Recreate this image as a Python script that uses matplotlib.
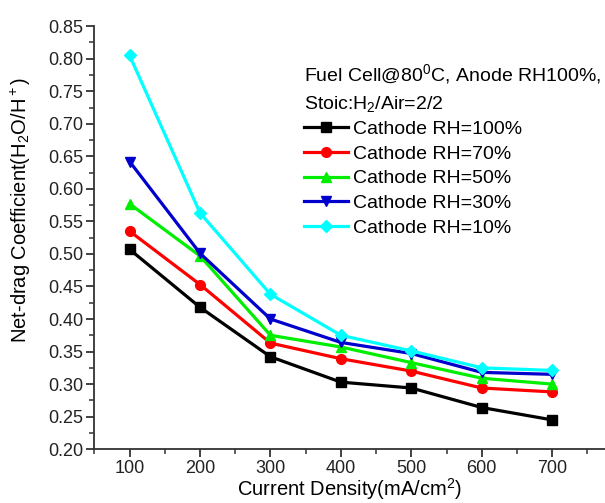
import matplotlib
matplotlib.use("Agg")
import matplotlib.pyplot as plt
from matplotlib.ticker import MultipleLocator

plt.rcParams["font.family"] = ["Liberation Sans", "DejaVu Sans"]
plt.rcParams["mathtext.fontset"] = "custom"
plt.rcParams["mathtext.rm"] = "Liberation Sans"
plt.rcParams["mathtext.it"] = "Liberation Sans"

current_density = [100, 200, 300, 400, 500, 600, 700]
rh100 = [0.507, 0.418, 0.342, 0.303, 0.294, 0.264, 0.245]
rh70 = [0.535, 0.453, 0.363, 0.339, 0.320, 0.294, 0.288]
rh50 = [0.577, 0.497, 0.375, 0.357, 0.333, 0.309, 0.300]
rh30 = [0.642, 0.501, 0.400, 0.364, 0.347, 0.318, 0.315]
rh10 = [0.805, 0.563, 0.438, 0.375, 0.351, 0.325, 0.321]

series = [
    ("Cathode RH=100%", rh100, "#000000", "s"),
    ("Cathode RH=70%", rh70, "#ff0000", "o"),
    ("Cathode RH=50%", rh50, "#00ee00", "^"),
    ("Cathode RH=30%", rh30, "#0000cc", "v"),
    ("Cathode RH=10%", rh10, "#00ffff", "D"),
]

fig = plt.figure(figsize=(6.05, 5.03), dpi=100)
ax = fig.add_axes([0.156, 0.107, 0.844, 0.841])

for label, vals, color, marker in series:
    ms = 6 if marker == "D" else 7
    ax.plot(current_density, vals, color=color, marker=marker, markersize=ms,
            linewidth=2.3, label=label)

ax.set_xlim(50, 775)
ax.set_ylim(0.20, 0.85)
ax.xaxis.set_major_locator(MultipleLocator(100))
ax.xaxis.set_minor_locator(MultipleLocator(50))
ax.yaxis.set_major_locator(MultipleLocator(0.05))
ax.yaxis.set_minor_locator(MultipleLocator(0.025))
ax.yaxis.set_major_formatter(plt.FormatStrFormatter("%.2f"))
ax.set_xticks(current_density)

for side in ("top", "right"):
    ax.spines[side].set_visible(False)
for side in ("left", "bottom"):
    ax.spines[side].set_linewidth(1.3)
    ax.spines[side].set_color("#333333")

ax.tick_params(which="major", direction="out", length=6, width=1.3, pad=2,
               labelsize=13, colors="#333333", labelcolor="#222222")
ax.tick_params(which="minor", direction="out", length=3.5, width=1.1,
               colors="#333333")

ax.set_xlabel("Current Density(mA/cm$^2$)", fontsize=14.5, labelpad=-1)
ax.set_ylabel("Net-drag Coefficient(H$_2$O/H$^+$)", fontsize=14.5)
ax.yaxis.set_label_coords(-0.12, 0.565)

leg = ax.legend(
    loc="upper left", bbox_to_anchor=(0.41, 0.915),
    title="Fuel Cell@80$^0$C, Anode RH100%,\nStoic:H$_2$/Air=2/2",
    frameon=False, fontsize=14, title_fontsize=14,
    handlelength=2.3, handletextpad=0.25, labelspacing=0.36,
    borderaxespad=0, borderpad=0,
)
leg._legend_box.align = "left"
leg.get_title().set_linespacing(1.5)

fig.savefig("out.png", dpi=100)
